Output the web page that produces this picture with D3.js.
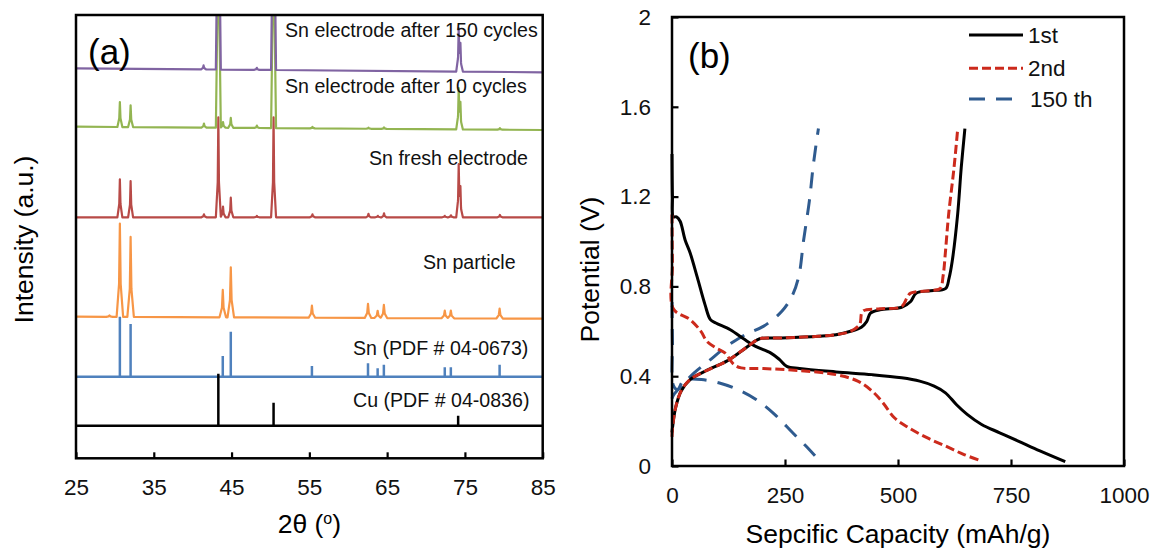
<!DOCTYPE html>
<html>
<head>
<meta charset="utf-8">
<script src="https://cdn.jsdelivr.net/npm/d3@7"></script>
<style>
  body { margin: 0; background: #fff; }
  svg { font-family: "Liberation Sans", Arial, sans-serif; }
  .tick text { font-size: 22.5px; fill: #111; }
</style>
</head>
<body>
<svg id="chart" width="1155" height="552"></svg>
<script>
// ---------- panel (a): XRD ----------
// peaks: [2theta, height above baseline] (a.u.), baseline: [left, right] offset (a.u.)
const angleTicks = [25, 35, 45, 55, 65, 75, 85];

const purpleBase = [390, 386];
const purplePeaks = [[41.4, 4], [43.3, 460], [48.25, 2], [50.4, 460], [74.2, 40], [74.42, 23]];

const greenBase = [331.6, 328.3];
const greenPeaks = [[30.64, 25], [32.02, 21.7], [41.45, 4], [43.3, 400], [43.9, 5.7], [44.9, 10],
  [48.25, 2.4], [50.4, 400], [55.4, 1.5], [62.6, 1.2], [64.6, 1.5], [74.2, 38], [74.42, 22], [79.5, 1.5]];

const redBase = [241, 241];
const redPeaks = [[30.64, 38], [32.02, 36.3], [41.45, 3], [43.3, 100], [43.9, 10.6], [44.9, 19.6],
  [48.25, 1.3], [50.4, 100], [55.4, 3], [62.6, 3.5], [63.8, 1.5], [64.6, 4], [72.4, 1.5], [73.2, 2],
  [74.2, 49.6], [74.42, 24], [79.5, 2.3]];

const orangeBase = [141.6, 139.6];
const orangePeaks = [[29.3, 1.5], [30.64, 93.4], [32.02, 80], [43.87, 27.4], [44.9, 50], [55.33, 12],
  [62.54, 14.2], [63.78, 7.2], [64.58, 13.2], [72.41, 7.7], [73.19, 7.7], [79.46, 10]];

// reference sticks
const snBase = 81.6;
const snSticks = [[30.64, 60], [32.02, 52.7], [43.87, 20.7], [44.9, 45], [55.33, 10.7], [62.54, 13.4],
  [63.78, 8.4], [64.58, 12], [72.41, 9.4], [73.19, 9.4], [79.46, 12]];
const cuBase = 32.6;
const cuSticks = [[43.3, 52], [50.4, 23], [74.13, 10]];

const xrdLabels = [
  ["Sn electrode after 150 cycles", 285, 36.5],
  ["Sn electrode after 10 cycles", 285, 93],
  ["Sn fresh electrode", 369, 164.5],
  ["Sn particle", 423, 268.5],
  ["Sn (PDF # 04-0673)", 353, 355],
  ["Cu (PDF # 04-0836)", 353, 407]
];

// ---------- panel (b): charge / discharge ----------
const capTicks = [0, 250, 500, 750, 1000];
const voltTicks = [0, 0.4, 0.8, 1.2, 1.6, 2];

const dis1st = [[0, 1.39], [1, 1.2], [3, 1.11], [10, 1.11], [18, 1.09], [29, 1.007], [40, 0.95], [56, 0.84],
  [73, 0.719], [85, 0.652], [97, 0.637], [129, 0.607], [161, 0.563], [185, 0.533], [218, 0.504],
  [238, 0.474], [254, 0.444], [282, 0.434], [363, 0.419], [443, 0.407], [508, 0.393], [548, 0.378],
  [580, 0.356], [605, 0.326], [629, 0.274], [653, 0.23], [685, 0.185], [725, 0.148], [766, 0.111],
  [814, 0.067], [870, 0.019]];
const chg1st = [[0, 0.15], [2, 0.185], [8, 0.26], [20, 0.333], [40, 0.385], [73, 0.422], [121, 0.467],
  [153, 0.511], [178, 0.548], [194, 0.567], [243, 0.57], [324, 0.578], [363, 0.585], [395, 0.6],
  [419, 0.618], [431, 0.644], [439, 0.681], [460, 0.696], [508, 0.707], [528, 0.733], [540, 0.77],
  [572, 0.781], [605, 0.79], [613, 0.837], [620, 0.913], [632, 1.122], [640, 1.331], [648, 1.503]];

const dis2nd = [[0, 1.12], [1, 0.9], [3, 0.7], [40, 0.652], [64, 0.6], [77, 0.556], [97, 0.526],
  [117, 0.504], [137, 0.452], [153, 0.437], [202, 0.434], [282, 0.425], [363, 0.407], [411, 0.378],
  [443, 0.333], [467, 0.281], [492, 0.215], [524, 0.17], [564, 0.126], [605, 0.089], [645, 0.052],
  [685, 0.022]];
const chg2nd = [[0, 0.13], [2, 0.185], [8, 0.26], [20, 0.333], [40, 0.385], [73, 0.422], [121, 0.467],
  [153, 0.511], [178, 0.548], [194, 0.567], [243, 0.57], [324, 0.578], [363, 0.585], [395, 0.6],
  [415, 0.63], [422, 0.689], [460, 0.7], [508, 0.71], [520, 0.75], [528, 0.77], [572, 0.781],
  [593, 0.79], [600, 0.85], [605, 0.955], [612, 1.12], [624, 1.33], [632, 1.5]];

const dis150 = [[0, 0.73], [1, 0.55], [3, 0.36], [12, 0.34], [25, 0.38], [40, 0.387], [65, 0.385],
  [105, 0.37], [146, 0.34], [186, 0.296], [227, 0.23], [267, 0.148], [300, 0.081], [328, 0.019]];
const chg150 = [[0, 0.3], [4, 0.318], [24, 0.363], [49, 0.415], [81, 0.467], [121, 0.533], [162, 0.585],
  [202, 0.622], [243, 0.689], [267, 0.763], [281, 0.85], [291, 1.003], [304, 1.182], [312, 1.33],
  [320, 1.45], [324, 1.503]];

const legendNames = ["1st", "2nd", "150 th"];

// ------------------------------------------------
const svg = d3.select("#chart");

// panel (a)
const ax = { left: 76, right: 542.7, top: 15, bottom: 458.3 };
const xA = d3.scaleLinear().domain([25, 85]).range([ax.left, ax.right]);
const yA = d3.scaleLinear().domain([0, ax.bottom - ax.top]).range([ax.bottom, ax.top]);

svg.append("defs").append("clipPath").attr("id", "clipA")
  .append("rect")
  .attr("x", ax.left).attr("y", ax.top)
  .attr("width", ax.right - ax.left).attr("height", ax.bottom - ax.top);

// build a trace polyline from baseline + peak list
function trace(base, peaks, w) {
  const w2 = w * 0.25;
  let xs = [25, 85];
  peaks.forEach(p => xs.push(p[0] - w, p[0] - w2, p[0], p[0] + w2, p[0] + w));
  xs = xs.filter(x => x >= 25 && x <= 85).sort((a, b) => a - b);
  return xs.map(x => {
    let y = base[0] + (base[1] - base[0]) * (x - 25) / 60;
    peaks.forEach(p => {
      const d = Math.abs(x - p[0]);
      if (d < w2) y += p[1] * (1 - 0.65 * d / w2);
      else if (d < w) y += p[1] * 0.35 * (w - d) / (w - w2);
    });
    return [x, y];
  });
}

const lineA = d3.line().x(d => xA(d[0])).y(d => yA(d[1]));
const gA = svg.append("g").attr("clip-path", "url(#clipA)");

// reference sticks
gA.append("line")
  .attr("x1", ax.left).attr("x2", ax.right)
  .attr("y1", yA(snBase)).attr("y2", yA(snBase))
  .attr("stroke", "#4F81BD").attr("stroke-width", 2.5);
gA.selectAll(".sn").data(snSticks).enter().append("line")
  .attr("x1", d => xA(d[0])).attr("x2", d => xA(d[0]))
  .attr("y1", yA(snBase)).attr("y2", d => yA(snBase + d[1]))
  .attr("stroke", "#4F81BD").attr("stroke-width", 2.5);

gA.append("line")
  .attr("x1", ax.left).attr("x2", ax.right)
  .attr("y1", yA(cuBase)).attr("y2", yA(cuBase))
  .attr("stroke", "#000").attr("stroke-width", 2.5);
gA.selectAll(".cu").data(cuSticks).enter().append("line")
  .attr("x1", d => xA(d[0])).attr("x2", d => xA(d[0]))
  .attr("y1", yA(cuBase)).attr("y2", d => yA(cuBase + d[1]))
  .attr("stroke", "#000").attr("stroke-width", 2.5);

const patterns = [
  [orangeBase, orangePeaks, "#F79646", 0.42],
  [redBase, redPeaks, "#B84A47", 0.32],
  [greenBase, greenPeaks, "#93B552", 0.32],
  [purpleBase, purplePeaks, "#8064A2", 0.32]
];
patterns.forEach(p => {
  gA.append("path")
    .attr("d", lineA(trace(p[0], p[1], p[3])))
    .attr("fill", "none")
    .attr("stroke", p[2])
    .attr("stroke-width", 2.2)
    .attr("stroke-linejoin", "round");
});

svg.append("rect")
  .attr("x", ax.left).attr("y", ax.top)
  .attr("width", ax.right - ax.left).attr("height", ax.bottom - ax.top)
  .attr("fill", "none").attr("stroke", "#000").attr("stroke-width", 2.5);

const axisA = svg.append("g")
  .attr("transform", "translate(0," + ax.bottom + ")")
  .call(d3.axisBottom(xA).tickValues(angleTicks).tickSize(-6).tickPadding(20.5));
axisA.select(".domain").remove();
axisA.selectAll("line").attr("stroke", "#000").attr("stroke-width", 2.2);

svg.selectAll(".xrdlabel").data(xrdLabels).enter().append("text")
  .attr("x", d => d[1]).attr("y", d => d[2])
  .style("font-size", "19.6px").attr("fill", "#111")
  .text(d => d[0]);

svg.append("text").attr("x", 88).attr("y", 64)
  .style("font-size", "35px").text("(a)");

const titleA = svg.append("text")
  .attr("x", (ax.left + ax.right) / 2).attr("y", 533)
  .style("font-size", "26.5px").attr("text-anchor", "middle");
titleA.append("tspan").text("2θ (");
titleA.append("tspan").attr("dy", -9).style("font-size", "16px").text("o");
titleA.append("tspan").attr("dy", 9).text(")");

svg.append("text")
  .attr("transform", "translate(33," + 239.5 + ") rotate(-90)")
  .attr("text-anchor", "middle")
  .style("font-size", "26.5px")
  .text("Intensity (a.u.)");

// panel (b)
const bx = { left: 672, right: 1124, top: 17, bottom: 466 };
const xB = d3.scaleLinear().domain([0, 1000]).range([bx.left, bx.right]);
const yB = d3.scaleLinear().domain([0, 2]).range([bx.bottom, bx.top]);

const axisBx = svg.append("g")
  .attr("transform", "translate(0," + bx.bottom + ")")
  .call(d3.axisBottom(xB).tickValues(capTicks).tickSize(-6.5).tickPadding(21.5)
    .tickFormat(d3.format("d")));
axisBx.select(".domain").remove();
axisBx.selectAll("line").attr("stroke", "#000").attr("stroke-width", 2.2);

const axisBy = svg.append("g")
  .attr("transform", "translate(" + bx.left + ",0)")
  .call(d3.axisLeft(yB).tickValues(voltTicks).tickSize(-6.5).tickPadding(21)
    .tickFormat(d3.format("~g")));
axisBy.select(".domain").remove();
axisBy.selectAll("line").attr("stroke", "#000").attr("stroke-width", 2.2);

const lineB = d3.line().x(d => xB(d[0])).y(d => yB(d[1])).curve(d3.curveCatmullRom.alpha(0.5));

const curves = [
  [dis150, "#2F5B8F", "16,11"], [chg150, "#2F5B8F", "16,11"],
  [dis1st, "#000", null], [chg1st, "#000", null],
  [dis2nd, "#CC2A1C", "9,4"], [chg2nd, "#CC2A1C", "9,4"]
];
curves.forEach(c => {
  svg.append("path")
    .attr("d", lineB(c[0]))
    .attr("fill", "none")
    .attr("stroke", c[1])
    .attr("stroke-width", 3)
    .attr("stroke-dasharray", c[2]);
});

svg.append("rect")
  .attr("x", bx.left).attr("y", bx.top)
  .attr("width", bx.right - bx.left).attr("height", bx.bottom - bx.top)
  .attr("fill", "none").attr("stroke", "#000").attr("stroke-width", 2.5);

// legend
const legStyles = [["#000", null], ["#CC2A1C", "9,4"], ["#2F5B8F", "16,11"]];
const legY = [35, 68.3, 99];
legendNames.forEach((name, i) => {
  svg.append("line")
    .attr("x1", 969).attr("x2", 1023)
    .attr("y1", legY[i]).attr("y2", legY[i])
    .attr("stroke", legStyles[i][0]).attr("stroke-width", 3)
    .attr("stroke-dasharray", legStyles[i][1]);
  svg.append("text")
    .attr("x", i == 2 ? 1030 : 1028).attr("y", legY[i] + 8)
    .style("font-size", "22.5px").attr("fill", "#111")
    .text(name);
});

svg.append("text").attr("x", 688).attr("y", 68)
  .style("font-size", "35px").text("(b)");

svg.append("text")
  .attr("x", (bx.left + bx.right) / 2).attr("y", 543)
  .attr("text-anchor", "middle")
  .style("font-size", "26.5px")
  .text("Sepcific Capacity (mAh/g)");

svg.append("text")
  .attr("transform", "translate(599," + 269.5 + ") rotate(-90)")
  .attr("text-anchor", "middle")
  .style("font-size", "26.5px")
  .text("Potential (V)");
</script>
</body>
</html>
